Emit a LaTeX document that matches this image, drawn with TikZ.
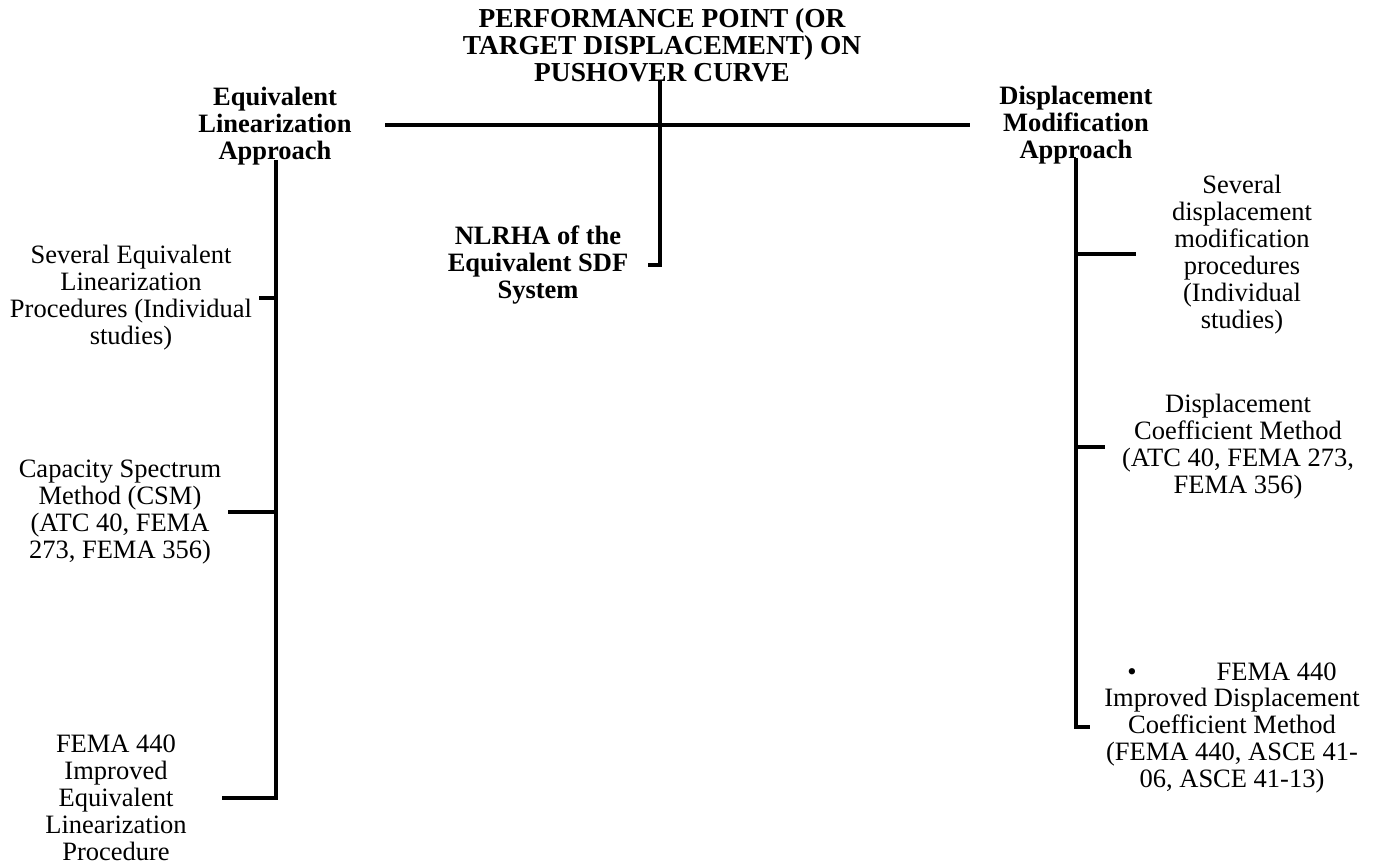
\documentclass[tikz,border=0pt]{standalone}
\usepackage{fontspec}
\setmainfont{Liberation Serif}
\begin{document}
\begin{tikzpicture}[x=0.5pt,y=-0.5pt,
  txt/.style={align=center,inner sep=0pt,font=\fontsize{13.25}{13.5}\selectfont},
  hd/.style={align=center,inner sep=0pt,font=\fontsize{13.25}{13.5}\selectfont\bfseries},
  conn/.style={line width=1.6pt}]
\useasboundingbox (0,0) rectangle (1377,867);
% headers
\node[hd,font=\fontsize{13.7}{13.5}\selectfont\bfseries] (title) at (662,45) {PERFORMANCE POINT (OR\\TARGET DISPLACEMENT) ON\\PUSHOVER CURVE};
\node[hd] (elh) at (275,126) {Equivalent\\Linearization\\Approach};
\node[hd] (dmh) at (1076,125) {Displacement\\Modification\\Approach};
\node[hd] (nl) at (538,265) {NLRHA of the\\Equivalent SDF\\System};
% left texts
\node[txt] (s1) at (131,297.5) {Several Equivalent\\Linearization\\Procedures (Individual\\studies)};
\node[txt] (s2) at (120,512) {Capacity Spectrum\\Method (CSM)\\(ATC 40, FEMA\\273, FEMA 356)};
\node[txt] (s3) at (116,798) {FEMA 440\\Improved\\Equivalent\\Linearization\\Procedure};
% right texts
\node[txt] (r1) at (1242,255) {Several\\displacement\\modification\\procedures\\(Individual\\studies)};
\node[txt] (r2) at (1238,447) {Displacement\\Coefficient Method\\(ATC 40, FEMA 273,\\FEMA 356)};
\node[txt] (r3) at (1232,728) {\textbullet\hspace{40pt}FEMA 440\\Improved Displacement\\Coefficient Method\\(FEMA 440, ASCE 41-\\06, ASCE 41-13)};
% coordinates
\coordinate (hl) at (385,125);
\coordinate (hr) at (970,125);
\coordinate (tt) at (660,80);
\coordinate (tc) at (660,265);
\coordinate (te) at (648,265);
\coordinate (lt) at (276,160);
\coordinate (l1) at (276,298);
\coordinate (l1e) at (259,298);
\coordinate (l2) at (276,512);
\coordinate (l2e) at (228,512);
\coordinate (lb) at (276,798);
\coordinate (l3e) at (222,798);
\coordinate (rt) at (1076,158);
\coordinate (q1) at (1076,254);
\coordinate (q1e) at (1136,254);
\coordinate (q2) at (1076,447);
\coordinate (q2e) at (1105,447);
\coordinate (rb) at (1076,727);
\coordinate (q3e) at (1090,727);
% connectors
\draw[conn] (hl) -- (hr);
\draw[conn] (tt) -- (tc) -- (te);
\draw[conn] (lt) -- (lb) -- (l3e);
\draw[conn] (l1e) -- (l1);
\draw[conn] (l2e) -- (l2);
\draw[conn] (rt) -- (rb) -- (q3e);
\draw[conn] (q1) -- (q1e);
\draw[conn] (q2) -- (q2e);
\end{tikzpicture}
\end{document}
